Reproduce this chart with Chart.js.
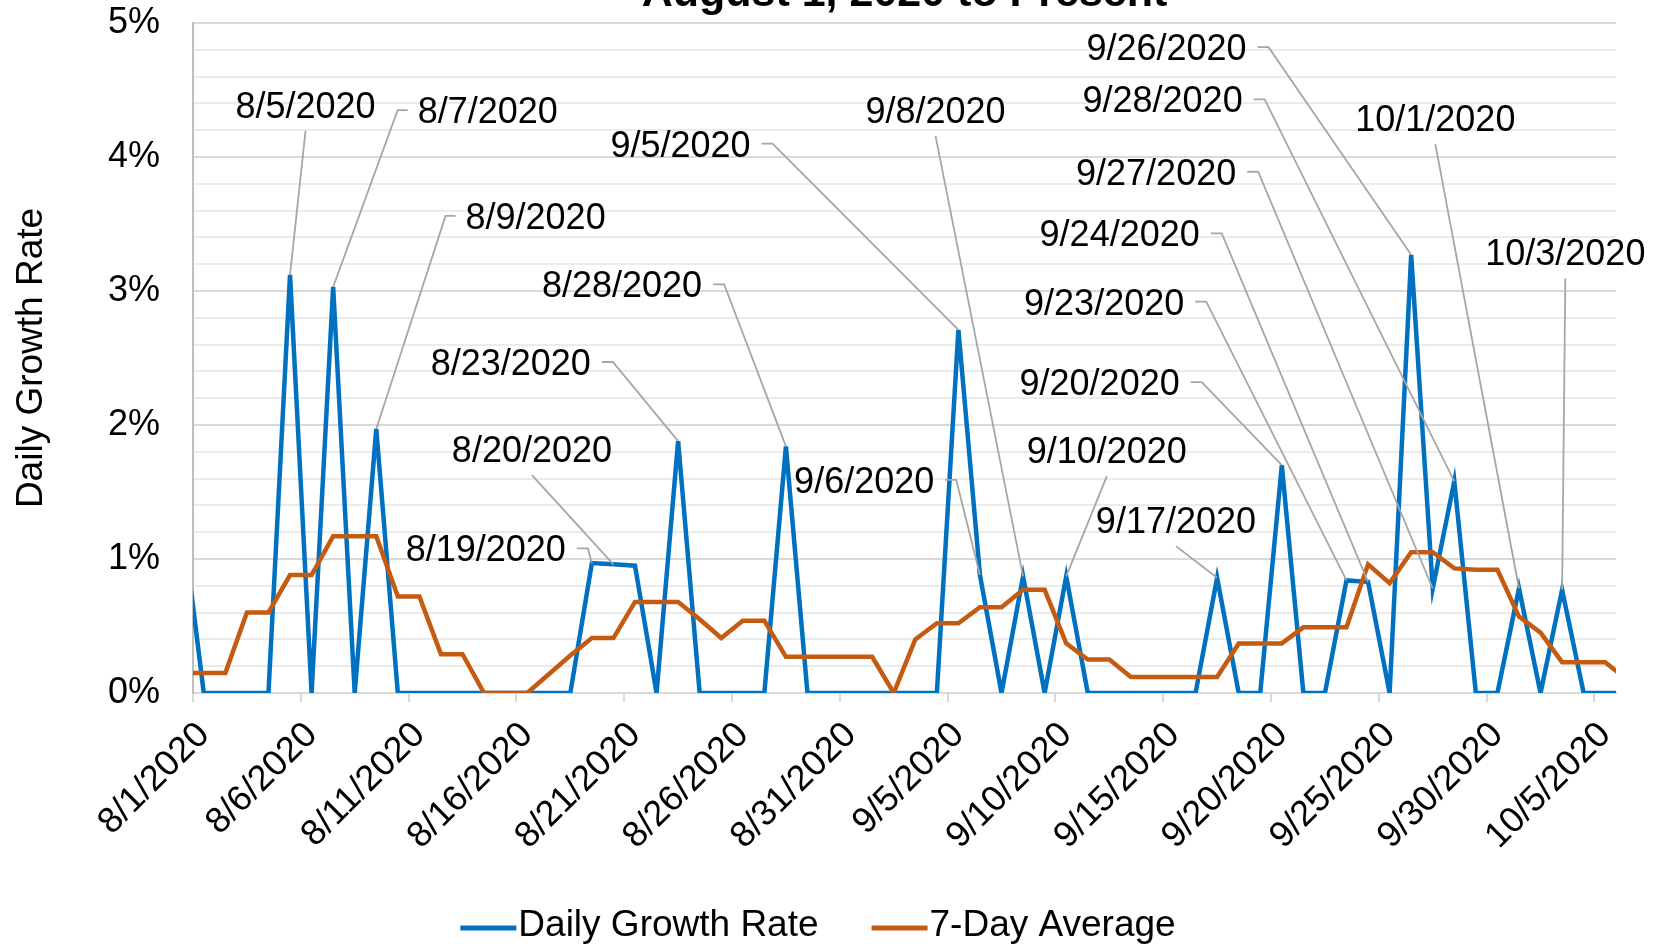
<!DOCTYPE html>
<html>
<head>
<meta charset="utf-8">
<script src="https://cdn.jsdelivr.net/npm/chart.js@4.4.1/dist/chart.umd.min.js"></script>
<style>
  html, body { margin: 0; padding: 0; background: #fff; }
</style>
</head>
<body>
<canvas id="chart" width="1659" height="949"></canvas>
<script>
// Daily growth rate vs 7-day average, Aug 1 2020 onward
// 7/31 and 10/6 sit just outside the axis range so the lines run to the plot edges
const days = [
  '7/31/2020',
  '8/1/2020', '8/2/2020', '8/3/2020', '8/4/2020', '8/5/2020', '8/6/2020', '8/7/2020', '8/8/2020',
  '8/9/2020', '8/10/2020', '8/11/2020', '8/12/2020', '8/13/2020', '8/14/2020', '8/15/2020', '8/16/2020',
  '8/17/2020', '8/18/2020', '8/19/2020', '8/20/2020', '8/21/2020', '8/22/2020', '8/23/2020', '8/24/2020',
  '8/25/2020', '8/26/2020', '8/27/2020', '8/28/2020', '8/29/2020', '8/30/2020', '8/31/2020',
  '9/1/2020', '9/2/2020', '9/3/2020', '9/4/2020', '9/5/2020', '9/6/2020', '9/7/2020', '9/8/2020',
  '9/9/2020', '9/10/2020', '9/11/2020', '9/12/2020', '9/13/2020', '9/14/2020', '9/15/2020', '9/16/2020',
  '9/17/2020', '9/18/2020', '9/19/2020', '9/20/2020', '9/21/2020', '9/22/2020', '9/23/2020', '9/24/2020',
  '9/25/2020', '9/26/2020', '9/27/2020', '9/28/2020', '9/29/2020', '9/30/2020',
  '10/1/2020', '10/2/2020', '10/3/2020', '10/4/2020', '10/5/2020', '10/6/2020'
];

// percent
const dailyRate = [
  1.30,
  0, 0, 0, 0, 3.12, 0, 3.03, 0,
  1.97, 0, 0, 0, 0, 0, 0, 0,
  0, 0, 0.97, 0.96, 0.95, 0, 1.88, 0,
  0, 0, 0, 1.84, 0, 0, 0,
  0, 0, 0, 0, 2.71, 0.88, 0, 0.87,
  0, 0.87, 0, 0, 0, 0, 0, 0,
  0.86, 0, 0, 1.70, 0, 0, 0.84, 0.83,
  0, 3.27, 0.78, 1.58, 0, 0,
  0.78, 0, 0.77, 0, 0, 0
];

const sevenDayAvg = [
  0.15,
  0.15, 0.15, 0.60, 0.60, 0.88, 0.88, 1.17, 1.17,
  1.17, 0.72, 0.72, 0.29, 0.29, 0, 0, 0,
  0.14, 0.28, 0.41, 0.41, 0.68, 0.68, 0.68, 0.55,
  0.41, 0.54, 0.54, 0.27, 0.27, 0.27, 0.27,
  0.27, 0, 0.40, 0.52, 0.52, 0.64, 0.64, 0.77,
  0.77, 0.37, 0.25, 0.25, 0.12, 0.12, 0.12, 0.12,
  0.12, 0.37, 0.37, 0.37, 0.49, 0.49, 0.49, 0.96,
  0.82, 1.05, 1.05, 0.93, 0.92, 0.92,
  0.57, 0.45, 0.23, 0.23, 0.23, 0.10
];

// dates that carry a data label on the daily series
const calloutDates = [
  '8/5/2020', '8/7/2020', '8/9/2020', '8/19/2020', '8/20/2020', '8/23/2020', '8/28/2020',
  '9/5/2020', '9/6/2020', '9/8/2020', '9/10/2020', '9/17/2020', '9/20/2020', '9/23/2020',
  '9/24/2020', '9/26/2020', '9/27/2020', '9/28/2020', '10/1/2020', '10/3/2020'
];
// where each label was dragged to: [category index, percent, side the leader leaves from]
const calloutPos = [
  [5.72, 4.39, 'bottom'], [14.17, 4.35, 'left'], [16.39, 3.56, 'left'], [14.08, 1.08, 'right'],
  [16.22, 1.82, 'bottom'], [15.24, 2.47, 'right'], [20.40, 3.05, 'right'],
  [23.11, 4.10, 'right'], [31.63, 1.59, 'right'], [34.94, 4.35, 'bottom'], [42.88, 1.81, 'bottom'],
  [46.09, 1.29, 'bottom'], [42.55, 2.32, 'right'], [42.76, 2.92, 'right'],
  [43.48, 3.43, 'right'], [45.65, 4.82, 'right'], [45.17, 3.89, 'right'], [45.47, 4.43, 'right'],
  [58.12, 4.29, 'bottom'], [64.15, 3.29, 'bottom']
];

const FONT = '"Liberation Sans", Arial, sans-serif';
Chart.defaults.font.family = FONT;
Chart.defaults.color = '#000';

function isMajor(v) { return Math.abs(v - Math.round(v)) < 1e-6; }

const callouts = {
  id: 'callouts',
  afterDatasetsDraw(chart) {
    const { ctx, scales: { x, y } } = chart;
    const capH = 26;
    ctx.save();
    ctx.font = '36px ' + FONT;
    ctx.fillStyle = '#000';
    ctx.strokeStyle = '#a6a6a6';
    ctx.lineWidth = 1.8;
    ctx.textBaseline = 'alphabetic';
    ctx.textAlign = 'left';
    calloutDates.forEach((d, i) => {
      const idx = days.indexOf(d);
      const px = x.getPixelForValue(idx);
      const py = y.getPixelForValue(dailyRate[idx]);
      const [lx, lv, side] = calloutPos[i];
      const cx = x.getPixelForValue(lx);
      const cy = y.getPixelForValue(lv);
      const w = ctx.measureText(d).width;
      ctx.beginPath();
      if (side === 'bottom') {
        ctx.moveTo(cx, cy + capH);
      } else if (side === 'right') {
        ctx.moveTo(cx + w / 2 + 11, cy);
        ctx.lineTo(cx + w / 2 + 22, cy);
      } else {
        ctx.moveTo(cx - w / 2 - 10, cy);
        ctx.lineTo(cx - w / 2 - 20, cy);
      }
      ctx.lineTo(px, py);
      ctx.stroke();
      ctx.fillText(d, cx - w / 2, cy + capH / 2);
    });
    ctx.restore();
  }
};

// title sits mostly above the canvas, only its lower part shows
const chartTitle = {
  id: 'chartTitle',
  afterDraw(chart) {
    const { ctx, chartArea } = chart;
    ctx.save();
    ctx.font = 'bold 43px ' + FONT;
    ctx.fillStyle = '#000';
    ctx.textAlign = 'center';
    ctx.textBaseline = 'alphabetic';
    ctx.fillText('August 1, 2020 to Present', (chartArea.left + chartArea.right) / 2, 6);
    ctx.restore();
  }
};

// Excel-style legend: long line swatch, text right next to it
const lineLegend = {
  id: 'lineLegend',
  afterDraw(chart) {
    const { ctx } = chart;
    const sw = 56, gap = 2, between = 53, cy = 928;
    ctx.save();
    ctx.font = '37px ' + FONT;
    ctx.textBaseline = 'middle';
    ctx.textAlign = 'left';
    const items = chart.data.datasets.map(ds => ({ text: ds.label, color: ds.borderColor, w: ctx.measureText(ds.label).width }));
    const total = items.reduce((a, it) => a + sw + gap + it.w, 0) + between * (items.length - 1);
    let x = 818 - total / 2;
    items.forEach(it => {
      ctx.strokeStyle = it.color;
      ctx.lineWidth = 5;
      ctx.beginPath();
      ctx.moveTo(x, cy);
      ctx.lineTo(x + sw, cy);
      ctx.stroke();
      ctx.fillStyle = '#000';
      ctx.fillText(it.text, x + sw + gap, cy - 2);
      x += sw + gap + it.w + between;
    });
    ctx.restore();
  }
};

new Chart(document.getElementById('chart'), {
  type: 'line',
  data: {
    labels: days,
    datasets: [
      {
        label: 'Daily Growth Rate',
        data: dailyRate,
        borderColor: '#0070C0',
        backgroundColor: '#0070C0',
        borderWidth: 4.5,
        pointRadius: 0,
        tension: 0,
        clip: 0,
        order: 1
      },
      {
        label: '7-Day Average',
        data: sevenDayAvg,
        borderColor: '#C55A11',
        backgroundColor: '#C55A11',
        borderWidth: 4.5,
        pointRadius: 0,
        tension: 0,
        clip: 0,
        order: 0
      }
    ]
  },
  options: {
    responsive: false,
    devicePixelRatio: 1,
    animation: false,
    events: [],
    layout: { padding: { top: 23, right: 43, left: 0, bottom: 66 } },
    plugins: {
      legend: { display: false },
      tooltip: { enabled: false }
    },
    scales: {
      x: {
        offset: true,
        // show 8/1 .. 10/5 only; set here (not min/max) so both edge days still feed the lines
        afterDataLimits: (s) => { s.min = days.indexOf('8/1/2020'); s.max = days.indexOf('10/5/2020'); },
        grid: {
          offset: true,
          drawOnChartArea: false,
          tickLength: 9,
          lineWidth: 2,
          color: (c) => (c.tick && (c.tick.value - 1) % 5 === 0) ? '#d9d9d9' : 'rgba(0,0,0,0)'
        },
        border: { color: '#d9d9d9', width: 2 },
        ticks: {
          autoSkip: false,
          minRotation: 45,
          maxRotation: 45,
          padding: 12,
          font: { size: 36 },
          color: '#000',
          callback: function (v) { return (v - 1) % 5 === 0 ? this.getLabelForValue(v) : ''; }
        },
        afterFit: (s) => { s.height = 190; }
      },
      y: {
        min: 0,
        max: 5,
        ticks: {
          stepSize: 0.2,
          maxTicksLimit: 40,
          autoSkip: false,
          padding: 33,
          font: { size: 36 },
          color: '#000',
          callback: (v) => isMajor(v) ? Math.round(v) + '%' : ''
        },
        grid: {
          drawTicks: false,
          lineWidth: 2,
          color: (c) => isMajor(c.tick.value) ? '#d9d9d9' : '#ebebeb'
        },
        border: { color: '#bfbfbf', width: 2 },
        title: {
          display: true,
          text: 'Daily Growth Rate',
          font: { size: 37 },
          color: '#000',
          padding: { top: 10, bottom: 0 }
        },
        // labels may overhang the plot top; keep plot area where the original has it
        afterFit: (s) => { s.width = 193; s.paddingTop = 0; s.paddingBottom = 0; }
      }
    }
  },
  plugins: [callouts, chartTitle, lineLegend]
});
</script>
</body>
</html>
